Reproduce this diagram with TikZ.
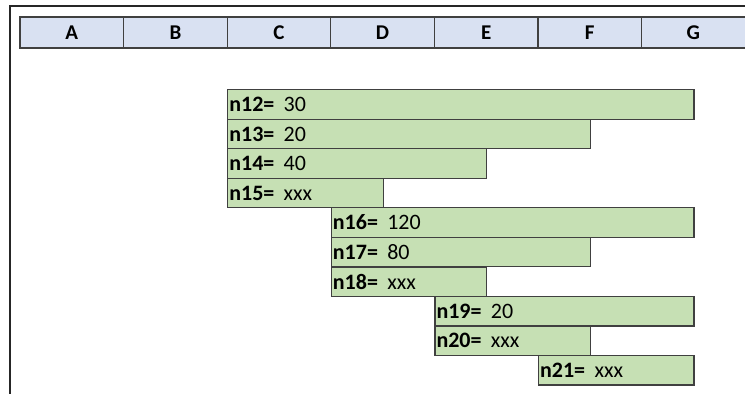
\documentclass[tikz,border=0pt]{standalone}
\usepackage{fontspec}
\setmainfont{Carlito}
\definecolor{headblue}{HTML}{D9E1F2}
\definecolor{bargreen}{HTML}{C6E0B4}
\definecolor{gridgray}{HTML}{404040}
\tikzset{
  colhead/.style={draw=gridgray, fill=headblue, line width=1.2pt, minimum width=103.6pt, minimum height=31pt, inner sep=0pt, font=\bfseries\fontsize{21}{24}\selectfont},
  bar/.style={draw=gridgray, fill=bargreen, line width=1.2pt, anchor=north west, minimum height=29.5pt, inner xsep=1.5pt, inner ysep=0pt, align=left, font=\fontsize{22}{24}\selectfont}
}

\begin{document}
\begin{tikzpicture}[x=1pt, y=-1pt]
	\useasboundingbox (0,0) rectangle (745,394);
	% sheet frame
	\draw [line width=1.6pt, black!85] (745,6) -- (10,6) -- (10,394);
	% column headers
	\foreach \c [count=\i from 0] in {A,B,C,D,E,F,G}
	\node [colhead] (col\c) at (20+103.6*\i+51.8, 32.5) {\c};
	% bars
	\foreach \n/\col/\row/\w/\v in {12/2/0/4.5/30, 13/2/1/3.5/20, 14/2/2/2.5/40, 15/2/3/1.5/xxx, 16/3/4/3.5/120, 17/3/5/2.5/80, 18/3/6/1.5/xxx, 19/4/7/2.5/20, 20/4/8/1.5/xxx, 21/5/9/1.5/xxx}
	\node [bar, text width=\w*103.6pt-3pt] (n\n) at (20+103.6*\col, 89+29.55*\row) {\textbf{n\n=}\hspace{2pt} \v};
\end{tikzpicture}
\end{document}
